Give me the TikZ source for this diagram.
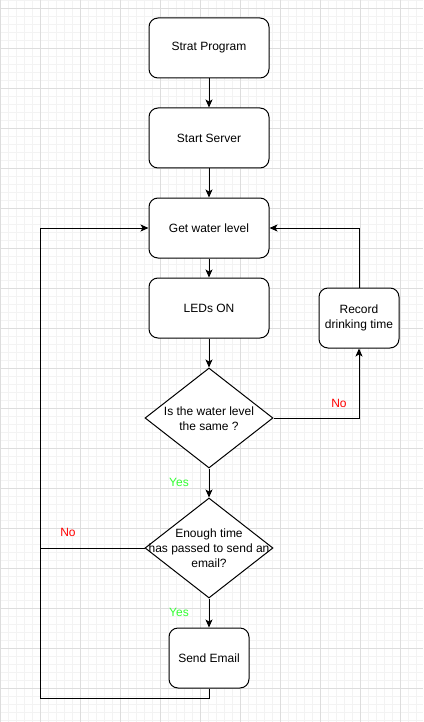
\documentclass[tikz,border=0pt]{standalone}
\usepackage{fontspec}
\setmainfont{Liberation Sans}
\usetikzlibrary{shapes.geometric,arrows.meta}
\definecolor{gmin}{HTML}{F3F3F3}
\definecolor{gmaj}{HTML}{DDDDDD}
\definecolor{nored}{HTML}{FF0000}
\definecolor{yesgreen}{HTML}{33FF33}
\begin{document}
\begin{tikzpicture}[x=1pt,y=-1pt,
  txtfont/.style={font=\fontsize{12}{15}\selectfont},
  box/.style={draw,rounded corners=9pt,minimum width=120pt,minimum height=60pt,inner sep=0pt,align=center,txtfont,line width=1pt,fill=white},
  smallbox/.style={box,minimum width=80pt},
  dia/.style={draw,diamond,minimum width=128pt,minimum height=100pt,inner sep=0pt,line width=1pt,fill=white},
  diatext/.style={align=center,txtfont,inner sep=0pt},
  conn/.style={line width=1pt},
  arr/.style={conn,-{Stealth[length=8pt,width=7pt,inset=2pt]}},
  nolab/.style={text=nored,txtfont,inner sep=0pt},
  yeslab/.style={text=yesgreen,txtfont,inner sep=0pt}
]
\useasboundingbox (0,0) rectangle (423,722);
\fill[white] (0,0) rectangle (423,722);
\foreach \x in {0,8,...,423} \draw[gmin,line width=0.6pt] (\x,0) -- (\x,722);
\foreach \y in {0,8,...,722} \draw[gmin,line width=0.6pt] (0,\y) -- (423,\y);
\foreach \x in {0,40,...,423} \draw[gmaj,line width=0.8pt] (\x,0) -- (\x,722);
\foreach \y in {8,48,...,722} \draw[gmaj,line width=0.8pt] (0,\y) -- (423,\y);

\node[box] (sp) at (209,48) {Strat Program};
\node[box] (ss) at (209,138) {Start Server};
\node[box] (gw) at (209,228) {Get water level};
\node[box] (led) at (209,308) {LEDs ON};
\node[smallbox] (rec) at (359,318) {Record\\drinking time};
\node[dia] (d1) at (209,418) {};
\node[diatext] (d1t) at (209,419) {Is the water level\\the same ?};
\node[dia] (d2) at (209,548) {};
\node[diatext] (d2t) at (209,548) {Enough time\\has passed to send an\\email?};
\node[smallbox] (se) at (209,658) {Send Email};

\coordinate (c1) at (40,698);
\coordinate (c2) at (40,548);

\draw[arr] (sp) -- (ss);
\draw[arr] (ss) -- (gw);
\draw[arr] (gw) -- (led);
\draw[arr] (led) -- (d1);
\draw[arr] (d1) -- (d2);
\draw[arr] (d2) -- (se);
\draw[arr] (d1.east) -| (rec.south);
\draw[arr] (rec.north) |- (gw.east);
\draw[arr] (se.south) |- (c1) |- (gw.west);
\draw[conn] (d2.west) -- (c2);

\node[nolab] (no1) at (339,403) {No};
\node[nolab] (no2) at (68,532) {No};
\node[yeslab] (yes1) at (179,482) {Yes};
\node[yeslab] (yes2) at (179,612) {Yes};
\end{tikzpicture}
\end{document}
